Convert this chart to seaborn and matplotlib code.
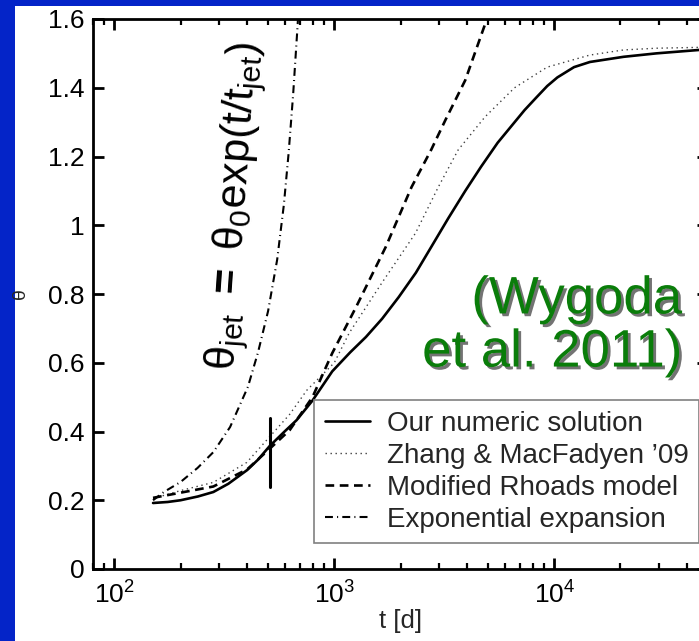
import matplotlib
matplotlib.use("Agg")
import matplotlib.pyplot as plt
import matplotlib.patheffects as pe
from matplotlib.patches import Rectangle
from matplotlib.ticker import LogLocator, NullFormatter, FixedLocator, FixedFormatter
from matplotlib.lines import Line2D
import seaborn as sns
import pandas as pd

# ---- data ----
t_numeric = [150, 175, 200, 240, 282, 330, 402, 450, 509, 590, 674, 796, 979, 1180, 1393, 1650,
             1963, 2350, 2760, 3296, 3940, 4645, 5530, 6607, 7330, 8300, 9290, 10330, 12300, 14530,
             20650, 29100, 50000]
theta_numeric = [0.192, 0.195, 0.200, 0.211, 0.224, 0.248, 0.288, 0.318, 0.358, 0.398, 0.433, 0.490,
                 0.575, 0.630, 0.675, 0.728, 0.791, 0.862, 0.937, 1.02, 1.10, 1.17, 1.24, 1.30,
                 1.335, 1.372, 1.405, 1.43, 1.46, 1.475, 1.49, 1.50, 1.512]

t_zhang = [150, 200, 282, 400, 509, 627, 750, 1000, 1170, 1644, 2340, 2970, 3656, 4840, 6600,
           9290, 14500, 20650, 29100, 50000]
theta_zhang = [0.205, 0.228, 0.252, 0.31, 0.385, 0.45, 0.52, 0.60, 0.687, 0.832, 0.977, 1.111,
               1.219, 1.315, 1.40, 1.46, 1.495, 1.51, 1.515, 1.518]

t_rhoads = [150, 200, 282, 402, 509, 627, 796, 979, 1256, 1714, 2245, 2760, 3200, 3940, 5200]
theta_rhoads = [0.207, 0.222, 0.240, 0.290, 0.350, 0.404, 0.50, 0.628, 0.762, 0.937, 1.111, 1.22,
                1.306, 1.422, 1.64]

t_exp = [150, 168, 200, 239, 282, 336, 405, 450, 500, 550, 590, 620, 650, 681, 700]
theta_exp = [0.20, 0.224, 0.253, 0.294, 0.34, 0.413, 0.53, 0.63, 0.75, 0.90, 1.06, 1.21, 1.38,
             1.58, 1.72]

t_jet = 510
theta_jet_span = [0.24, 0.44]

series_labels = ["Our numeric solution", "Zhang & MacFadyen \u201909",
                 "Modified Rhoads model", "Exponential expansion"]
y_ticks = [0, 0.2, 0.4, 0.6, 0.8, 1.0, 1.2, 1.4, 1.6]
y_ticklabels = ["0", "0.2", "0.4", "0.6", "0.8", "1", "1.2", "1.4", "1.6"]
x_ticks = [1e2, 1e3, 1e4]
x_ticklabels = [r"$\mathdefault{10^{2}}$", r"$\mathdefault{10^{3}}$", r"$\mathdefault{10^{4}}$"]

# ---- style ----
sns.set_style("ticks")
plt.rcParams["font.family"] = ["Liberation Sans", "DejaVu Sans"]
plt.rcParams["mathtext.fontset"] = "custom"
plt.rcParams["mathtext.rm"] = "Liberation Sans"
plt.rcParams["mathtext.it"] = "Liberation Sans:italic"
plt.rcParams["mathtext.bf"] = "Liberation Sans:bold"

BLUE = "#0424c8"
W, H = 699, 641
fig = plt.figure(figsize=(W / 100, H / 100), dpi=100)
fig.patch.set_facecolor(BLUE)
bg = Rectangle((15 / W, 0), 1 - 15 / W, 1 - 6 / H, transform=fig.transFigure,
               facecolor="white", edgecolor="none", zorder=-10)
fig.patches.append(bg)

ax = fig.add_axes([93 / W, 1 - 569 / H, (708 - 93) / W, (569 - 19) / H])
ax.set_zorder(1)
ax.set_facecolor("white")

df_num = pd.DataFrame({"t": t_numeric, "theta": theta_numeric})
df_zh = pd.DataFrame({"t": t_zhang, "theta": theta_zhang})
df_rh = pd.DataFrame({"t": t_rhoads, "theta": theta_rhoads})
df_ex = pd.DataFrame({"t": t_exp, "theta": theta_exp})

sns.lineplot(data=df_num, x="t", y="theta", ax=ax, color="black", linewidth=1.9)
sns.lineplot(data=df_zh, x="t", y="theta", ax=ax, color="0.25", linewidth=1.0)
ax.lines[-1].set_dashes((1.0, 2.6))
sns.lineplot(data=df_rh, x="t", y="theta", ax=ax, color="black", linewidth=1.9)
ax.lines[-1].set_dashes((3.3, 2.1))
sns.lineplot(data=df_ex, x="t", y="theta", ax=ax, color="black", linewidth=1.5)
ax.lines[-1].set_dashes((3.8, 2.0, 0.5, 2.0))

ax.plot([t_jet, t_jet], theta_jet_span, color="black", linewidth=2.2)

ax.set_xscale("log")
ax.set_xlim(80, 5e4)
ax.set_ylim(0, 1.6)
ax.xaxis.set_major_locator(FixedLocator(x_ticks))
ax.xaxis.set_major_formatter(FixedFormatter(x_ticklabels))
ax.xaxis.set_minor_locator(LogLocator(base=10, subs=range(2, 10)))
ax.xaxis.set_minor_formatter(NullFormatter())
ax.yaxis.set_major_locator(FixedLocator(y_ticks))
ax.yaxis.set_major_formatter(FixedFormatter(y_ticklabels))

for s in ax.spines.values():
    s.set_visible(True)
    s.set_linewidth(2.0)
    s.set_color("black")
ax.tick_params(which="both", direction="in", top=True, right=True, colors="black")
ax.tick_params(which="major", length=8, width=2.0, labelsize=19, pad=6)
ax.tick_params(which="minor", length=4.5, width=1.6)
ax.tick_params(axis="x", which="major", pad=9)

ax.set_xlabel("t [d]", fontsize=18.5, labelpad=0)
ax.set_ylabel("\u03b8", fontsize=14)
ax.yaxis.set_label_coords((29 - 93) / 615, 0.5)

handles = [
    Line2D([], [], color="black", linewidth=1.9),
    Line2D([], [], color="0.25", linewidth=1.0, dashes=(1.0, 2.6)),
    Line2D([], [], color="black", linewidth=1.9, dashes=(3.3, 2.1)),
    Line2D([], [], color="black", linewidth=1.5, dashes=(3.8, 2.0, 0.5, 2.0)),
]
leg = ax.legend(handles, series_labels, loc="upper left",
                bbox_to_anchor=((314 - 93) / 615, (569 - 400) / 550),
                borderaxespad=0, fontsize=20, frameon=True, fancybox=False,
                framealpha=1, edgecolor="0.5", handlelength=1.65, handletextpad=0.6,
                borderpad=0.38, labelspacing=0.22)
leg.get_frame().set_linewidth(1.2)

# rotated equation
fig.text(237 / W, 1 - 206 / H,
         "\u03b8$_{\\mathrm{jet}}$ $\\mathbf{=}$ \u03b8$_{\\mathrm{0}}$exp(t/t$_{\\mathrm{jet}}$)",
         rotation=86, ha="center", va="center", fontsize=31, color="black", zorder=5)

# citation label with shadow
fig.text(682 / W, 1 - 326 / H, "(Wygoda\net al. 2011)", ha="right", va="center",
         multialignment="right", fontsize=38, color="#0a7d0a", linespacing=1.08, zorder=5,
         path_effects=[pe.SimplePatchShadow(offset=(2, -2), shadow_rgbFace="black", alpha=0.55),
                       pe.Normal()])

fig.savefig("out.png", dpi=100, facecolor=fig.get_facecolor())
